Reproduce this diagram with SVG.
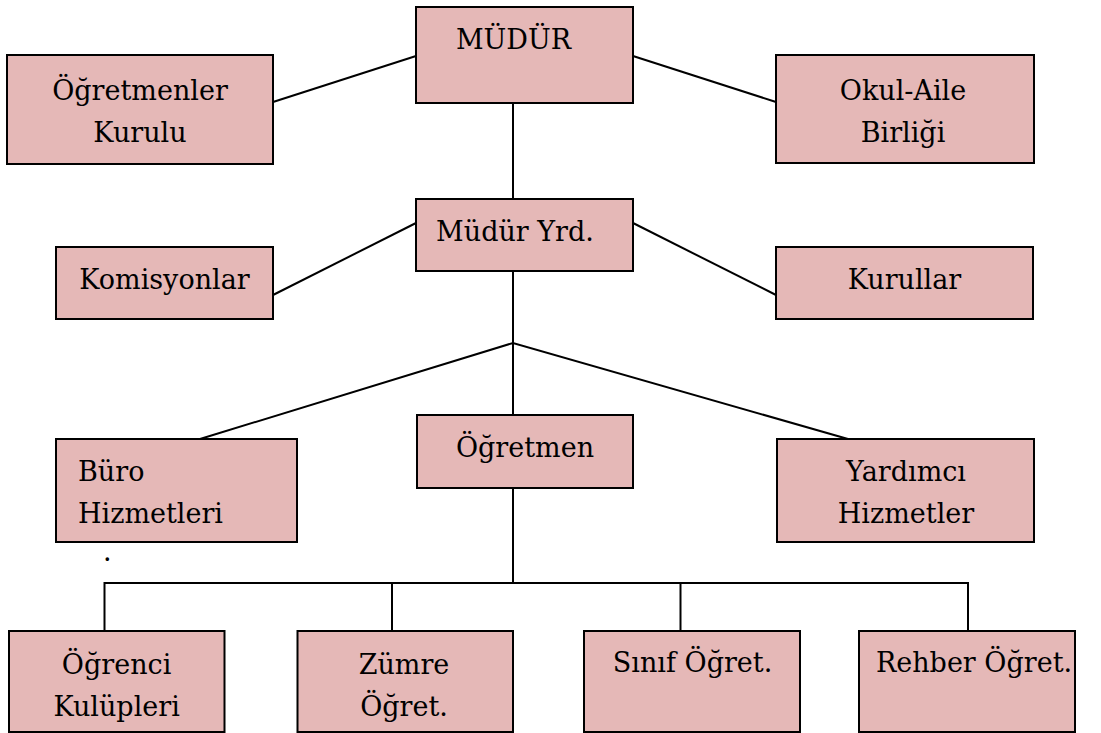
<svg xmlns="http://www.w3.org/2000/svg" width="1101" height="733" viewBox="0 0 1101 733">
<style>
.box{fill:#E5B8B7;stroke:#000;stroke-width:2}
.t{font-family:"DejaVu Serif","Liberation Serif",serif;font-size:27px;fill:#000}
.c{text-anchor:middle}
.ln{stroke:#000;stroke-width:2;fill:none}
</style>
<rect width="1101" height="733" fill="#fff"/>
<g id="connectors">
<line class="ln" x1="273" y1="102" x2="416" y2="56"/>
<line class="ln" x1="633" y1="56" x2="776" y2="102"/>
<line class="ln" x1="513" y1="103" x2="513" y2="199"/>
<line class="ln" x1="273" y1="295" x2="416" y2="223"/>
<line class="ln" x1="633" y1="223" x2="776" y2="295"/>
<line class="ln" x1="513" y1="271" x2="513" y2="415"/>
<polyline class="ln" points="200,439 513,343 848,439"/>
<line class="ln" x1="513" y1="488" x2="513" y2="583"/>
<polyline class="ln" points="104.5,631 104.5,583 968,583 968,631"/>
<line class="ln" x1="392" y1="583" x2="392" y2="631"/>
<line class="ln" x1="680.5" y1="583" x2="680.5" y2="631"/>
</g>
<g id="mudur">
<rect class="box" x="416" y="7" width="217" height="96"/>
<text class="t c" x="513.5" y="49">MÜDÜR</text>
</g>
<g id="ogretmenler-kurulu">
<rect class="box" x="7" y="55" width="266" height="109"/>
<text class="t c" x="140" y="100">Öğretmenler</text>
<text class="t c" x="140" y="142">Kurulu</text>
</g>
<g id="okul-aile">
<rect class="box" x="776" y="55" width="258" height="108"/>
<text class="t c" x="903" y="100">Okul-Aile</text>
<text class="t c" x="903" y="142">Birliği</text>
</g>
<g id="mudur-yrd">
<rect class="box" x="416" y="199" width="217" height="72"/>
<text class="t c" x="515" y="241">Müdür Yrd.</text>
</g>
<g id="komisyonlar">
<rect class="box" x="56" y="247" width="217" height="72"/>
<text class="t c" x="164.5" y="289">Komisyonlar</text>
</g>
<g id="kurullar">
<rect class="box" x="776" y="247" width="257" height="72"/>
<text class="t c" x="904.5" y="289">Kurullar</text>
</g>
<g id="buro">
<rect class="box" x="56" y="439" width="241" height="103"/>
<text class="t" x="78" y="481">Büro</text>
<text class="t" x="78" y="523">Hizmetleri</text>
</g>
<g id="ogretmen">
<rect class="box" x="417" y="415" width="216" height="73"/>
<text class="t c" x="525" y="457">Öğretmen</text>
</g>
<g id="yardimci">
<rect class="box" x="777" y="439" width="257" height="103"/>
<text class="t c" x="906" y="481">Yardımcı</text>
<text class="t c" x="906" y="523">Hizmetler</text>
</g>
<text class="t" x="103" y="561" font-size="10">.</text>
<g id="ogrenci">
<rect class="box" x="9" y="631" width="215.5" height="101"/>
<text class="t c" x="116.6" y="674">Öğrenci</text>
<text class="t c" x="116.6" y="716">Kulüpleri</text>
</g>
<g id="zumre">
<rect class="box" x="297.5" y="631" width="215.5" height="101"/>
<text class="t c" x="404" y="674">Zümre</text>
<text class="t c" x="404" y="716">Öğret.</text>
</g>
<g id="sinif">
<rect class="box" x="584" y="631" width="216" height="101"/>
<text class="t c" x="692.5" y="672">Sınıf Öğret.</text>
</g>
<g id="rehber">
<rect class="box" x="859" y="631" width="216" height="101"/>
<text class="t c" x="974" y="672">Rehber Öğret.</text>
</g>
</svg>
